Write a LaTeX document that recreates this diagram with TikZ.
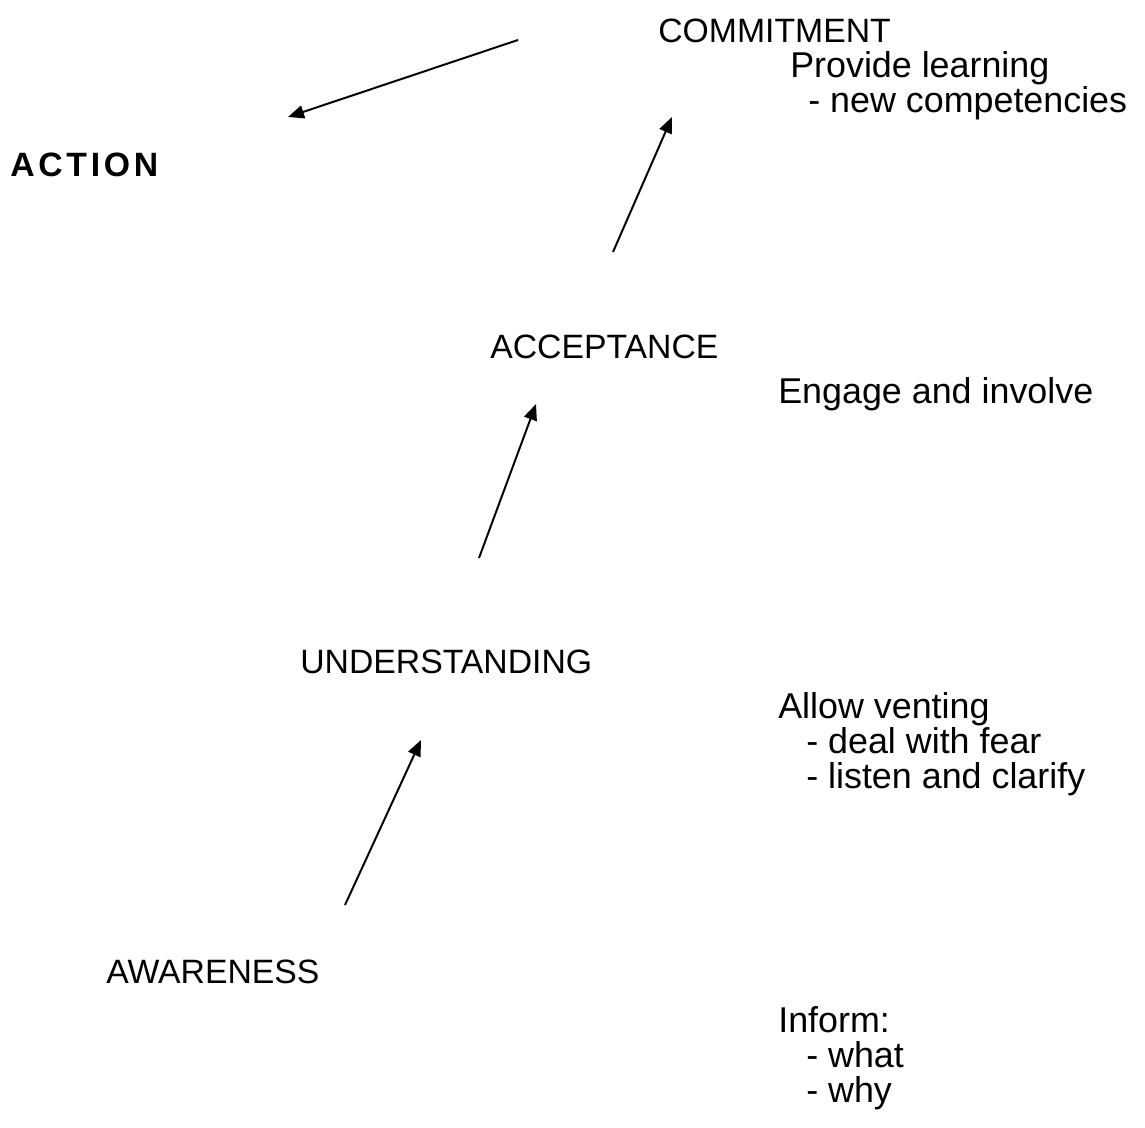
\documentclass[tikz,border=0pt]{standalone}
\usepackage{fontspec}
\setmainfont{Liberation Sans}
\usetikzlibrary{arrows.meta}

\tikzset{
  stage/.style={inner sep=0pt, anchor=base west, font=\fontsize{24}{28}\selectfont},
  hint/.style={inner sep=0pt, anchor=base west, font=\fontsize{25.5}{28}\selectfont},
  step arrow/.style={line width=1.4pt, -{Triangle[length=0.4cm, width=0.33cm]}}
}

\begin{document}
\begin{tikzpicture}[x=0.025cm, y=-0.025cm]
      \useasboundingbox (0,0) rectangle (1145,1128);

      \node[stage] (commit) at (658,43) {COMMITMENT};
      \node[hint] (learn) at (790,78) {Provide learning};
      \node[hint] (comp) at (808,113) {- new competencies};

      \node[stage, font=\fontsize{24}{28}\selectfont\bfseries\addfontfeature{LetterSpace=11}] (action) at (10,177) {ACTION};

      \node[stage] (accept) at (490,359) {ACCEPTANCE};
      \node[hint] (engage) at (778,404) {Engage and involve};

      \node[stage] (under) at (300,673) {UNDERSTANDING};
      \node[hint] (vent) at (778,718) {Allow venting};
      \node[hint] (fear) at (806,753) {- deal with fear};
      \node[hint] (listen) at (806,788) {- listen and clarify};

      \node[stage] (aware) at (106,983) {AWARENESS};
      \node[hint] (inform) at (778,1032) {Inform:};
      \node[hint] (what) at (806,1067) {- what};
      \node[hint] (why) at (806,1102) {- why};

      \coordinate (a1) at (345,905);
      \coordinate (b1) at (421,740);
      \coordinate (a2) at (479,558);
      \coordinate (b2) at (536,404);
      \coordinate (a3) at (613,252);
      \coordinate (b3) at (672,117);
      \coordinate (a4) at (518,40);
      \coordinate (b4) at (288,117);

      \draw[step arrow] (a1) -- (b1);
      \draw[step arrow] (a2) -- (b2);
      \draw[step arrow] (a3) -- (b3);
      \draw[step arrow] (a4) -- (b4);
    \end{tikzpicture}
\end{document}
